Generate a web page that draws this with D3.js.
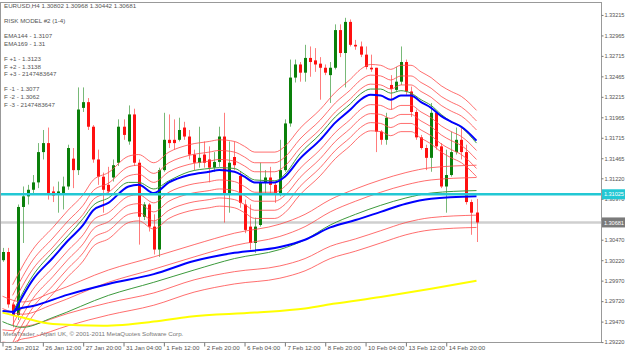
<!DOCTYPE html>
<html>
<head>
<meta charset="utf-8">
<script src="https://cdn.jsdelivr.net/npm/d3@7"></script>
<style>
body { margin: 0; background: #fff; }
svg text { font-family: "Liberation Sans", Arial, sans-serif; font-size: 6.2px; fill: #555; }
svg .axis.y text, svg .lvl { font-size: 5.7px; letter-spacing: -0.1px; }
</style>
</head>
<body>
<div id="chart"></div>
<script>
// EURUSD H4 bars, 25 Jan 04:00 .. 15 Feb 20:00
var openP = [1.3022,1.3032,1.2968,1.2955,1.3087,1.3100,1.3108,1.3117,1.3154,1.3165,1.3106,1.3103,1.3104,1.3112,1.3146,1.3132,1.3208,1.3215,1.3185,1.3145,
    1.3124,1.3114,1.3123,1.3141,1.3185,1.3167,1.3200,1.3141,1.3075,1.3090,1.3063,1.3035,1.3132,1.3169,1.3169,1.3169,1.3184,1.3173,1.3151,1.3141,
    1.3151,1.3145,1.3135,1.3142,1.3173,1.3104,1.3148,1.3125,1.3090,1.3063,1.3043,1.3065,1.3117,1.3123,1.3114,1.3104,1.3132,1.3189,1.3245,1.3261,
    1.3251,1.3269,1.3266,1.3262,1.3257,1.3248,1.3257,1.3303,1.3275,1.3313,1.3285,1.3283,1.3273,1.3257,1.3257,1.3179,1.3169,1.3236,1.3230,1.3240,
    1.3264,1.3228,1.3203,1.3172,1.3159,1.3147,1.3202,1.3161,1.3112,1.3126,1.3154,1.3169,1.3154,1.3093,1.30802];
var highP = [1.3037,1.3037,1.2970,1.3090,1.3112,1.3114,1.3126,1.3165,1.3181,1.3184,1.3112,1.3118,1.3124,1.3163,1.3159,1.3233,1.3233,1.3220,1.3187,1.3157,
    1.3129,1.3136,1.3145,1.3194,1.3194,1.3211,1.3207,1.3145,1.3093,1.3092,1.3078,1.3135,1.3202,1.3200,1.3194,1.3196,1.3191,1.3181,1.3157,1.3185,
    1.3167,1.3161,1.3154,1.3185,1.3202,1.3167,1.3167,1.3130,1.3096,1.3090,1.3074,1.3141,1.3132,1.3136,1.3117,1.3169,1.3194,1.3267,1.3267,1.3264,
    1.3285,1.3283,1.3281,1.3270,1.3261,1.3264,1.3310,1.3310,1.3318,1.3316,1.3291,1.3289,1.3283,1.3273,1.3257,1.3181,1.3202,1.3248,1.3258,1.3283,
    1.3267,1.3234,1.3206,1.3175,1.3163,1.3214,1.3202,1.3165,1.3157,1.3179,1.3184,1.3184,1.3163,1.3096,1.30968];
var lowP = [1.3020,1.2964,1.2940,1.2949,1.3043,1.3090,1.3104,1.3110,1.3145,1.3096,1.3093,1.3080,1.3084,1.3108,1.3110,1.3126,1.3203,1.3181,1.3141,1.3114,
    1.3080,1.3102,1.3118,1.3137,1.3169,1.3163,1.3137,1.3041,1.3071,1.3057,1.3029,1.3026,1.3130,1.3159,1.3157,1.3167,1.3169,1.3145,1.3132,1.3135,
    1.3135,1.3117,1.3130,1.3136,1.3068,1.3080,1.3132,1.3086,1.3055,1.3035,1.3031,1.3063,1.3104,1.3104,1.3092,1.3100,1.3130,1.3185,1.3239,1.3240,
    1.3240,1.3246,1.3252,1.3218,1.3248,1.3214,1.3255,1.3270,1.3233,1.3283,1.3279,1.3270,1.3255,1.3252,1.3154,1.3163,1.3163,1.3206,1.3228,1.3236,
    1.3224,1.3197,1.3169,1.3157,1.3132,1.3130,1.3157,1.3110,1.3080,1.3124,1.3151,1.3145,1.3090,1.3053,1.30442];
var closeP = [1.3032,1.2968,1.2955,1.3087,1.3100,1.3108,1.3117,1.3154,1.3165,1.3104,1.3101,1.3106,1.3112,1.3159,1.3132,1.3206,1.3215,1.3185,1.3145,1.3124,
    1.3108,1.3106,1.3138,1.3185,1.3175,1.3200,1.3141,1.3075,1.3090,1.3063,1.3035,1.3132,1.3169,1.3165,1.3165,1.3181,1.3173,1.3151,1.3141,1.3147,
    1.3141,1.3135,1.3142,1.3173,1.3104,1.3141,1.3138,1.3092,1.3059,1.3043,1.3063,1.3117,1.3123,1.3114,1.3104,1.3132,1.3189,1.3245,1.3261,1.3251,
    1.3269,1.3264,1.3261,1.3257,1.3251,1.3257,1.3303,1.3275,1.3313,1.3285,1.3283,1.3273,1.3258,1.3255,1.3179,1.3169,1.3196,1.3231,1.3240,1.3264,
    1.3228,1.3203,1.3172,1.3159,1.3147,1.3202,1.3161,1.3112,1.3126,1.3154,1.3169,1.3154,1.3093,1.3080,1.30681];

// indicator lines as [bar, price]
var fastBlue = [[2,1.2955],[6,1.2998],[10,1.3025],[13,1.3046],[16,1.3065],[18,1.3083],[21,1.3092],[25,1.3112],[27,1.3114],[30,1.3104],[33,1.3117],
    [37,1.3126],[41,1.3130],[43,1.3132],[46,1.3130],[48,1.3124],[50,1.3117],[54,1.3117],[56,1.3124],[59,1.3146],[63,1.3169],[66,1.3190],[69,1.3206],
    [71,1.3218],[73,1.3224],[75,1.3223],[77,1.3218],[79,1.3223],[81,1.3223],[83,1.3215],[85,1.3208],[87,1.3198],[89,1.3191],[91,1.3185],[94,1.3168]];
var fastGreen = [[2,1.2958],[6,1.3003],[10,1.3032],[13,1.3052],[16,1.3073],[18,1.3089],[21,1.3098],[25,1.3117],[27,1.3117],[30,1.3109],[33,1.3119],
    [37,1.3130],[41,1.3134],[43,1.3135],[46,1.3134],[48,1.3127],[50,1.3120],[54,1.3119],[56,1.3127],[59,1.3152],[63,1.3176],[66,1.3197],[69,1.3213],
    [71,1.3225],[73,1.3231],[75,1.3231],[77,1.3226],[79,1.3229],[81,1.3226],[83,1.3218],[85,1.3211],[87,1.3200],[89,1.3191],[91,1.3184],[94,1.3165]];
var fastBandOffsets = [0.0037, 0.0024, 0.0013, -0.0012, -0.0023, -0.0034, -0.0044];

var slowBlue = [[0,1.2960],[2,1.2959],[3,1.2962],[6,1.2966],[13,1.2980],[21,1.2993],[30,1.3005],[38,1.3021],[46,1.3031],[55,1.3038],[60,1.3047],
    [65,1.3062],[70,1.3071],[75,1.3081],[80,1.3091],[85,1.3097],[94,1.3100]];
var slowGreen = [[0,1.2947],[4,1.2940],[10,1.2952],[21,1.2979],[30,1.2995],[38,1.3010],[46,1.3024],[55,1.3035],[60,1.3047],[65,1.3065],[70,1.3078],
    [75,1.3089],[80,1.3098],[85,1.3104],[94,1.3107]];
var slowUpperOffsets = [0.0016, 0.0031];   // from EMA144 (green)
var slowLowerOffsets = [-0.0023, -0.0038]; // from EMA169 (blue)

var yellowLine = [[0,1.2958],[4,1.2952],[10,1.2944],[20,1.2942],[30,1.2947],[37,1.2953],[50,1.2958],[60,1.2963],[66,1.2969],[75,1.2977],[85,1.2987],[94,1.2997]];

var levelCyan = 1.31025;
var levelBid = 1.30681;

var priceTicks = [1.29220,1.29470,1.29720,1.29970,1.30220,1.30470,1.30720,1.30970,1.31220,1.31465,1.31715,1.31965,1.32215,1.32465,1.32715,1.32965,1.33215];
var timeTickBars = [0,8,16,24,32,40,48,56,64,72,80,88];
var timeTickLabels = ["25 Jan 2012","26 Jan 12:00","27 Jan 20:00","31 Jan 04:00","1 Feb 12:00","2 Feb 20:00","6 Feb 04:00","7 Feb 12:00",
    "8 Feb 20:00","10 Feb 04:00","13 Feb 12:00","14 Feb 20:00"];

var infoLines = ["RISK MODEL #2 (1-4)", "", "EMA144 - 1.3107", "EMA169 - 1.31", "", "F +1 - 1.3123", "F +2 - 1.3138", "F +3 - 2147483647", "",
    "F -1 - 1.3077", "F -2 - 1.3062", "F -3 - 2147483647"];

var W = 625, H = 353;
var plotL = 0, plotR = 601, plotT = 2, plotB = 342;

var svg = d3.select("#chart").append("svg")
    .attr("width", W)
    .attr("height", H);

svg.append("rect").attr("width", W).attr("height", H).style("fill", "#fff");

var x = d3.scaleLinear().domain([0, 94]).range([2.5, 476.5]);
var y = d3.scaleLinear().domain([1.29221, 1.33373]).range([plotB, plotT]);

svg.append("clipPath")
    .attr("id", "clip")
    .append("rect")
    .attr("x", plotL).attr("y", plotT)
    .attr("width", plotR - plotL).attr("height", plotB - plotT);

var plot = svg.append("g").attr("clip-path", "url(#clip)");

// bid line
plot.append("line")
    .attr("x1", plotL).attr("x2", plotR)
    .attr("y1", y(levelBid)).attr("y2", y(levelBid))
    .style("stroke", "#cfcfcf").style("stroke-width", 2.4);

// candles
var bars = d3.range(openP.length);
var candle = plot.append("g").selectAll("g").data(bars).enter().append("g");
function colorOf(i) { return closeP[i] >= openP[i] ? "#0a800a" : "#ff1010"; }
candle.append("line")
    .attr("x1", function (i) { return Math.round(x(i)) + 0.5; })
    .attr("x2", function (i) { return Math.round(x(i)) + 0.5; })
    .attr("y1", function (i) { return y(highP[i]); })
    .attr("y2", function (i) { return y(lowP[i]); })
    .style("stroke", colorOf)
    .style("stroke-opacity", 0.55)
    .style("stroke-width", 1);
candle.append("rect")
    .attr("x", function (i) { return Math.round(x(i)) - 1; })
    .attr("width", 3)
    .attr("y", function (i) { return y(Math.max(openP[i], closeP[i])); })
    .attr("height", function (i) { return Math.max(1, y(Math.min(openP[i], closeP[i])) - y(Math.max(openP[i], closeP[i]))); })
    .style("fill", colorOf);

var line = d3.line()
    .x(function (d) { return x(d[0]); })
    .y(function (d) { return y(d[1]); })
    .curve(d3.curveMonotoneX);

function shifted(src, off) {
    return src.map(function (d) { return [d[0], d[1] + off]; });
}

// band lines
var bandColor = "#ff4a4a";
fastBandOffsets.forEach(function (off) {
    plot.append("path").datum(shifted(fastBlue, off)).attr("d", line)
        .style("fill", "none").style("stroke", bandColor).style("stroke-opacity", 0.8).style("stroke-width", 1);
});
slowUpperOffsets.forEach(function (off) {
    plot.append("path").datum(shifted(slowGreen, off)).attr("d", line)
        .style("fill", "none").style("stroke", bandColor).style("stroke-opacity", 0.8).style("stroke-width", 1);
});
slowLowerOffsets.forEach(function (off) {
    plot.append("path").datum(shifted(slowBlue, off)).attr("d", line)
        .style("fill", "none").style("stroke", bandColor).style("stroke-opacity", 0.8).style("stroke-width", 1);
});

[fastGreen, slowGreen].forEach(function (s) {
    plot.append("path").datum(s).attr("d", line)
        .style("fill", "none").style("stroke", "#3c9a3c").style("stroke-width", 1);
});
[fastBlue, slowBlue].forEach(function (s) {
    plot.append("path").datum(s).attr("d", line)
        .style("fill", "none").style("stroke", "#0000ff").style("stroke-width", 2);
});
plot.append("path").datum(yellowLine).attr("d", line)
    .style("fill", "none").style("stroke", "#ffff00").style("stroke-width", 2);

// cyan level
plot.append("line")
    .attr("x1", plotL).attr("x2", plotR)
    .attr("y1", y(levelCyan)).attr("y2", y(levelCyan))
    .style("stroke", "#22c8d4").style("stroke-width", 2.4);

// frame
svg.append("rect")
    .attr("x", plotL + 0.5).attr("y", plotT + 0.5)
    .attr("width", plotR - plotL).attr("height", plotB - plotT)
    .style("fill", "none").style("stroke", "#999").style("stroke-width", 1);

// price axis
var yAxis = d3.axisRight(y).tickValues(priceTicks).tickSize(2).tickPadding(1)
    .tickFormat(d3.format(".5f"));
var gY = svg.append("g")
    .attr("class", "axis y")
    .attr("transform", "translate(" + (plotR + 0.5) + ",0)")
    .call(yAxis);
gY.select(".domain").remove();
gY.selectAll("line").style("stroke", "#777");

// x axis
var xAxis = d3.axisBottom(x).tickValues(timeTickBars).tickSize(4)
    .tickFormat(function (d, i) { return timeTickLabels[i]; });
var gX = svg.append("g")
    .attr("class", "axis x")
    .attr("transform", "translate(0," + (plotB + 0.5) + ")")
    .call(xAxis);
gX.select(".domain").remove();
gX.selectAll("line").style("stroke", "#777");
gX.selectAll("text").attr("text-anchor", "start").attr("dx", 2).attr("y", 3);

// level boxes on price axis
function levelBox(p, fill, txt) {
    svg.append("rect")
        .attr("x", plotR + 1).attr("y", y(p) - 5)
        .attr("width", W - plotR - 1).attr("height", 10)
        .style("fill", fill);
    svg.append("text")
        .attr("class", "lvl")
        .attr("x", plotR + 3).attr("y", y(p) + 2.1)
        .style("fill", txt)
        .text(d3.format(".5f")(p));
}
levelBox(levelCyan, "#22c8d4", "#fff");
levelBox(levelBid, "#7a7a7a", "#fff");

// header texts
var last = openP.length - 1;
svg.append("text").attr("x", 4).attr("y", 8)
    .text("EURUSD,H4  " + [openP[last], highP[last], lowP[last], closeP[last]].map(d3.format(".5f")).join(" "));
infoLines.forEach(function (t, i) {
    if (t) svg.append("text").attr("x", 4).attr("y", 23 + i * 7.6).text(t);
});

svg.append("text").attr("x", 3).attr("y", 336).style("fill", "#777")
    .text("MetaTrader - Alpari UK, \u00a9 2001-2011 MetaQuotes Software Corp.");
</script>
</body>
</html>
